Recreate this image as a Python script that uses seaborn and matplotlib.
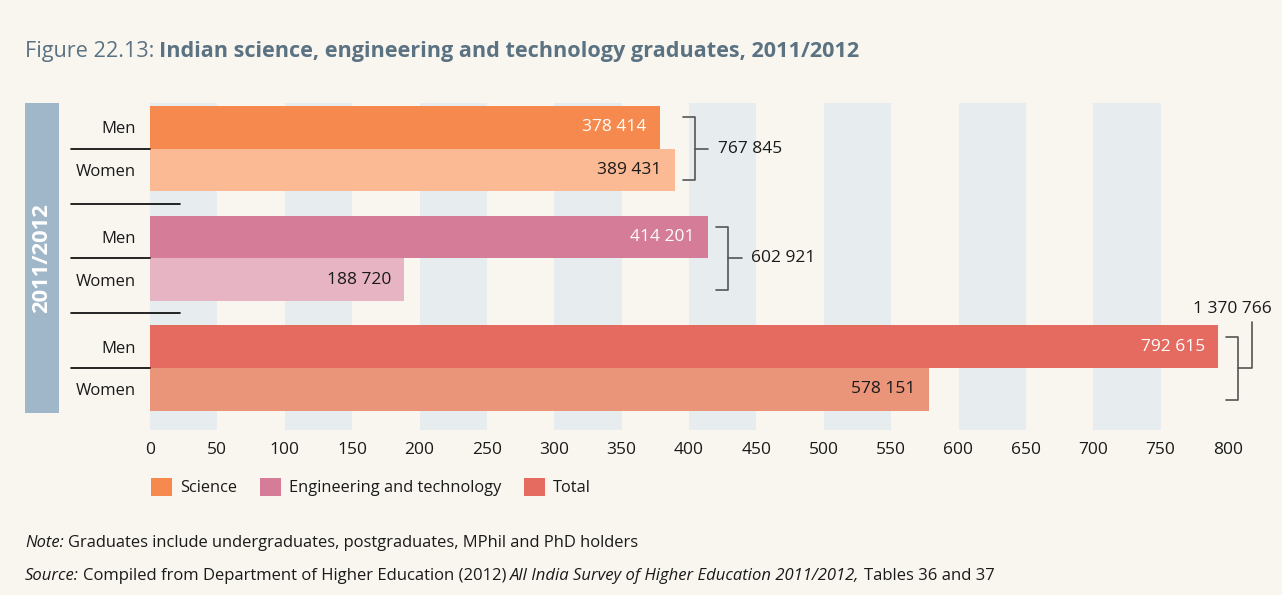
import numpy as np
import pandas as pd
import matplotlib.pyplot as plt
import seaborn as sns
from matplotlib.patches import Patch, Rectangle

# data (graduates, 2011/2012)
fields = ['Science', 'Engineering and technology', 'Total']
sexes = ['Men', 'Women']
men = [378414, 414201, 792615]
women = [389431, 188720, 578151]
x_ticks = list(range(0, 801, 50))

# colours: (men, women) per field
field_colors = {'Science': ('#f68a4e', '#fbb994'),
                'Engineering and technology': ('#d47c98', '#e6b4c2'),
                'Total': ('#e56b60', '#ea9479')}
bg = '#f9f6f0'
stripe = '#e7ecee'
band = '#a0b6c9'
title_col = '#5a7282'
ink = '#1a1a1a'
bracket_col = '#555555'

W, H = 1282, 595
def fx(px): return px / W
def fy(py): return 1 - py / H

pitch = 2.57  # group spacing in bar heights
rows = []
for gi, f in enumerate(fields):
    for si, (s, v) in enumerate(zip(sexes, [men[gi], women[gi]])):
        rows.append({'field': f, 'sex': s, 'value': v, 'k': v / 1000,
                     'pos': gi * pitch + si, 'key': f + ' ' + s,
                     'color': field_colors[f][si]})
df = pd.DataFrame(rows)
totals = df.groupby('field', sort=False)['value'].sum()

sns.set_style('white', {'axes.facecolor': bg, 'figure.facecolor': bg})
plt.rcParams['font.family'] = ['Open Sans', 'DejaVu Sans']

fig = plt.figure(figsize=(W / 100, H / 100), dpi=100)
fig.patch.set_facecolor(bg)
ax = fig.add_axes([fx(150), fy(430), (1228 - 150) / W, (430 - 103) / H])
ax.set_facecolor(bg)

# alternating column stripes
for x0 in x_ticks[:-1:2]:
    ax.axvspan(x0, x0 + 50, color=stripe, lw=0, zorder=0)

palette = dict(zip(df.key, df.color))
sns.barplot(data=df, x='k', y='pos', hue='key', palette=palette, orient='h',
            native_scale=True, width=1, dodge=False, legend=False,
            errorbar=None, saturation=1, linewidth=0, ax=ax, zorder=2)

ax.set_xlim(0, 800)
ax.set_ylim(df.pos.max() + 0.5 + 0.45, -0.57)
for sp in ax.spines.values():
    sp.set_visible(False)
ax.set_xticks(x_ticks)
ax.set_xticklabels([str(t) for t in x_ticks])
ax.set_yticks(df.pos)
ax.set_yticklabels(df.sex)
ax.tick_params(axis='x', length=0, pad=9, labelsize=12.5, labelcolor=ink)
ax.tick_params(axis='y', length=0, pad=10, labelsize=12, labelcolor=ink)
ax.set_xlabel('')
ax.set_ylabel('')

def fmt(v):
    return f'{v:,}'.replace(',', ' ')

# value labels inside bars
for _, r in df.iterrows():
    ax.annotate(fmt(r.value), xy=(r.k, r.pos), xytext=(-9.5, 0),
                textcoords='offset points', ha='right', va='center',
                fontsize=12.5, color='white' if r.sex == 'Men' else ink, zorder=5)

# separator lines at the left
ytr = ax.get_yaxis_transform()
for gi, f in enumerate(fields):
    g = df[df.field == f]
    pm, pw = g.pos.iloc[0], g.pos.iloc[1]
    ax.plot([-79 / 1078, 0], [pm + 0.5, pm + 0.5], transform=ytr, color='black',
            lw=1.2, clip_on=False, zorder=6)
    if gi < len(fields) - 1:
        yb = (pw + 0.5 + (gi + 1) * pitch - 0.5) / 2
        ax.plot([-79 / 1078, 30 / 1078], [yb, yb], transform=ytr, color='black',
                lw=1.2, clip_on=False, zorder=6)

# brackets with totals
for gi, f in enumerate(fields):
    g = df[df.field == f]
    pm, pw = g.pos.iloc[0], g.pos.iloc[1]
    x0 = g.k.max() + 6
    x1 = x0 + 9
    x2 = x1 + 10
    ymid = (pm + pw) / 2
    kw = dict(color=bracket_col, lw=1.2, clip_on=False, zorder=6)
    ax.plot([x0, x1, x1, x0], [pm - 0.24, pm - 0.24, pw + 0.24, pw + 0.24], **kw)
    if gi < len(fields) - 1:
        ax.plot([x1, x2], [ymid, ymid], **kw)
        ax.text(x2 + 7, ymid, fmt(totals[f]), ha='left', va='center',
                fontsize=12.5, color=ink)
    else:
        ytop = pm - 0.57
        ax.plot([x1, x2, x2], [ymid, ymid, ytop], **kw)
        ax.annotate(fmt(totals[f]), xy=(x2 + 15, ytop), xytext=(0, 4),
                    textcoords='offset points', ha='right', va='bottom',
                    fontsize=12.5, color=ink, annotation_clip=False)

# year band
fig.add_artist(Rectangle((fx(25), fy(413)), 34 / W, 310 / H, color=band,
                         transform=fig.transFigure, lw=0))
fig.text(fx(42), fy(258), '2011/2012', rotation=90, ha='center', va='center',
         color='white', fontsize=15.8, fontweight='bold')

# legend
handles = [Patch(facecolor=field_colors[f][0], edgecolor='none') for f in fields]
fig.legend(handles, fields, loc='center left', bbox_to_anchor=(fx(151), fy(487)),
           ncol=3, frameon=False, fontsize=11.8, handlelength=1.3,
           handleheight=1.3, handletextpad=0.5, columnspacing=1.35,
           borderpad=0, borderaxespad=0, labelcolor=ink)

renderer = fig.canvas.get_renderer()
def rich(x, y, parts, size, color):
    for txt, style, weight, gap in parts:
        t = fig.text(fx(x), fy(y), txt, fontsize=size, color=color,
                     style=style, fontweight=weight, ha='left', va='center')
        x = t.get_window_extent(renderer=renderer).x1 + gap

rich(25, 52, [('Figure 22.13:', 'normal', 'normal', 5),
              ('Indian science, engineering and technology graduates, 2011/2012',
               'normal', 'bold', 0)], 15.6, title_col)
rich(25, 543, [('Note:', 'italic', 'normal', 4),
               ('Graduates include undergraduates, postgraduates, MPhil and PhD holders',
                'normal', 'normal', 0)], 11.9, ink)
rich(25, 576, [('Source:', 'italic', 'normal', 4),
               ('Compiled from Department of Higher Education (2012)', 'normal', 'normal', 4),
               ('All India Survey of Higher Education 2011/2012,', 'italic', 'normal', 4),
               ('Tables 36 and 37', 'normal', 'normal', 0)], 12, ink)

fig.savefig('out.png', dpi=100, facecolor=bg)
